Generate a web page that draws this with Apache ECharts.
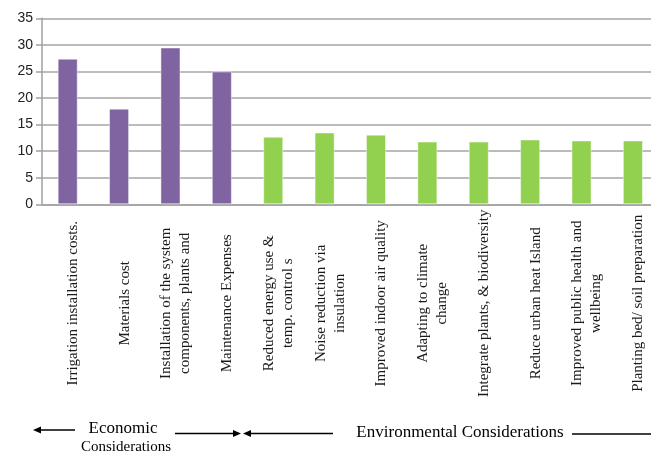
<!DOCTYPE html>
<html>
<head>
<meta charset="utf-8">
<script src="https://cdn.jsdelivr.net/npm/echarts@6/dist/echarts.min.js"></script>
<style>
html,body{margin:0;padding:0;background:#fff;}
#chart{width:651px;height:453px;}
</style>
</head>
<body>
<div id="chart"></div>
<script>
var economicLabels = [
  'Irrigation installation costs.',
  'Materials cost',
  'Installation of the system\ncomponents, plants and',
  'Maintenance Expenses'
];
var economicValues = [27.4, 18.0, 29.5, 25.0];

var environmentalLabels = [
  'Reduced energy use &\ntemp. control s',
  'Noise reduction via\ninsulation',
  'Improved indoor air quality',
  'Adapting to climate\nchange',
  'Integrate plants, & biodiversity',
  'Reduce urban heat Island',
  'Improved public health and\nwellbeing',
  'Planting bed/ soil preparation'
];
var environmentalValues = [12.7, 13.5, 13.1, 11.8, 11.8, 12.2, 12.0, 12.0];

var yTicks = [0, 5, 10, 15, 20, 25, 30, 35];

var economicColor = '#8064A2';
var environmentalColor = '#92D050';

var categories = economicLabels.concat(environmentalLabels);
var barData = economicValues.map(function (v) {
  return { value: v, itemStyle: { color: economicColor } };
}).concat(environmentalValues.map(function (v) {
  return { value: v, itemStyle: { color: environmentalColor } };
}));

var serif = '"Liberation Serif", "DejaVu Serif", serif';

var chart = echarts.init(document.getElementById('chart'), null, { renderer: 'canvas' });
chart.setOption({
  animation: false,
  backgroundColor: '#ffffff',
  grid: { left: 42, width: 616.6, top: 18.3, bottom: 248.7, containLabel: false, outerBoundsMode: 'none' },
  xAxis: {
    type: 'category',
    data: categories,
    axisLine: { show: true, lineStyle: { color: '#a0a0a0', width: 1.5 } },
    axisTick: { show: false },
    axisLabel: {
      interval: 0,
      rotate: 90,
      align: 'center',
      verticalAlign: 'middle',
      margin: 99,
      formatter: function (v) {
        return '{s| }\n' + v.split('\n').map(function (l) { return '{t|' + l + '}'; }).join('\n');
      },
      rich: {
        s: { fontSize: 1, lineHeight: 11 },
        t: { fontFamily: serif, fontSize: 15, lineHeight: 19, color: '#1a1a1a' }
      },
      fontFamily: serif,
      fontSize: 15,
      color: '#1a1a1a'
    }
  },
  yAxis: {
    type: 'value',
    min: yTicks[0],
    max: yTicks[yTicks.length - 1],
    interval: yTicks[1] - yTicks[0],
    axisLine: { show: true, lineStyle: { color: '#a0a0a0', width: 1.5 } },
    axisTick: { show: true, length: 6, lineStyle: { color: '#a0a0a0', width: 1.5 } },
    splitLine: { show: true, lineStyle: { color: '#a6a6a6', width: 1.5 } },
    axisLabel: {
      margin: 9,
      fontFamily: '"Liberation Sans", Arial, sans-serif',
      fontSize: 14,
      color: '#222'
    }
  },
  series: [{
    type: 'bar',
    data: barData,
    barWidth: '39%',
    itemStyle: { borderColor: 'rgba(255,255,255,0.45)', borderWidth: 1 }
  }],
  graphic: [
    // Economic: left arrow
    { type: 'line', shape: { x1: 36, y1: 430, x2: 75, y2: 430 }, style: { stroke: '#000', lineWidth: 1.3 } },
    { type: 'polygon', shape: { points: [[33, 430], [41, 426.5], [41, 433.5]] }, style: { fill: '#000' } },
    { type: 'text', x: 123, y: 429, style: { text: 'Economic', font: '17px ' + serif, fill: '#000', align: 'center', verticalAlign: 'middle' } },
    { type: 'text', x: 126, y: 447, style: { text: 'Considerations', font: '15px ' + serif, fill: '#000', align: 'center', verticalAlign: 'middle' } },
    // Economic right arrow
    { type: 'line', shape: { x1: 175, y1: 433.5, x2: 236, y2: 433.5 }, style: { stroke: '#000', lineWidth: 1.3 } },
    { type: 'polygon', shape: { points: [[241, 433.5], [233, 430], [233, 437]] }, style: { fill: '#000' } },
    // Environmental left arrow
    { type: 'polygon', shape: { points: [[243, 433.5], [251, 430], [251, 437]] }, style: { fill: '#000' } },
    { type: 'line', shape: { x1: 248, y1: 433.5, x2: 333, y2: 433.5 }, style: { stroke: '#000', lineWidth: 1.3 } },
    { type: 'text', x: 460, y: 433, style: { text: 'Environmental Considerations', font: '17px ' + serif, fill: '#000', align: 'center', verticalAlign: 'middle' } },
    { type: 'line', shape: { x1: 572, y1: 434, x2: 651, y2: 434 }, style: { stroke: '#000', lineWidth: 1.3 } }
  ]
});
</script>
</body>
</html>
